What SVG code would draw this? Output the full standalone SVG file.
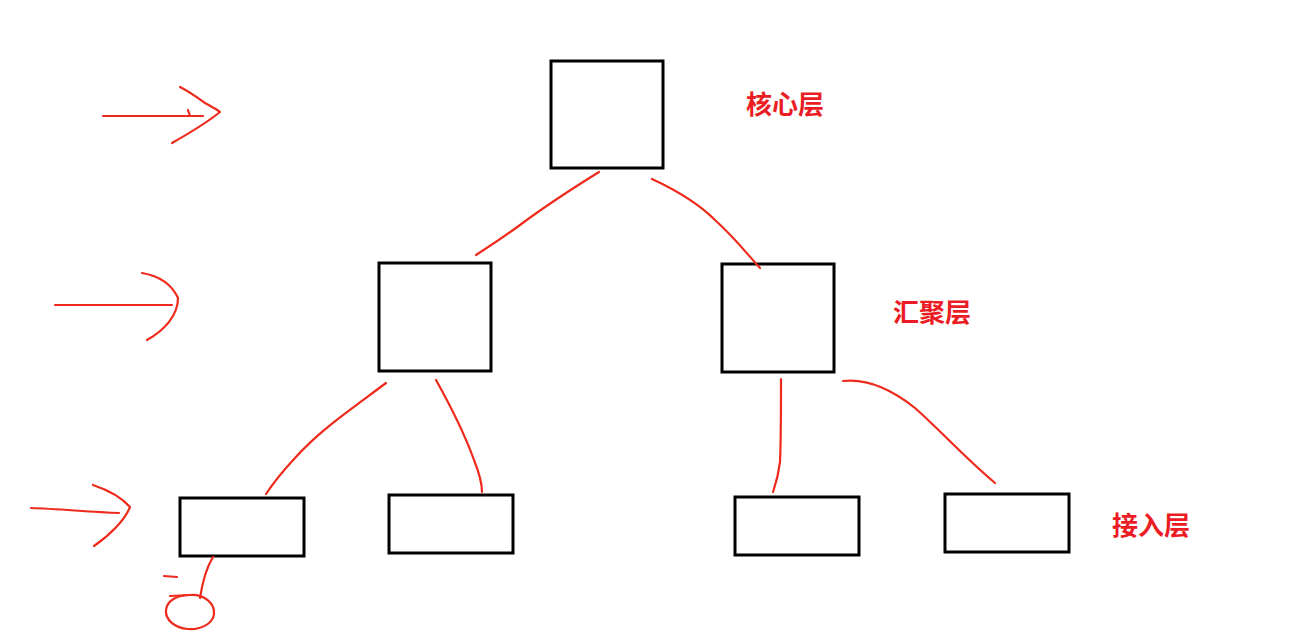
<svg xmlns="http://www.w3.org/2000/svg" width="1292" height="633" viewBox="0 0 1292 633">
<style>
.box{fill:none;stroke:#000;stroke-width:3}
.red{fill:none;stroke:#ee2a1c;stroke-width:2.2;stroke-linecap:round;stroke-linejoin:round}
.lbl{font-family:"Noto Sans CJK SC",sans-serif;font-weight:bold;font-size:26px;fill:#ec1c24}
</style>
<rect width="1292" height="633" fill="#fff"/>
<g id="core"><rect class="box" x="551" y="61" width="112" height="107"/></g>
<g id="agg-left"><rect class="box" x="379" y="263" width="112" height="108"/></g>
<g id="agg-right"><rect class="box" x="722" y="264" width="112" height="108"/></g>
<g id="acc-1"><rect class="box" x="180" y="498" width="124" height="58"/></g>
<g id="acc-2"><rect class="box" x="389" y="495" width="124" height="58"/></g>
<g id="acc-3"><rect class="box" x="735" y="497" width="124" height="58"/></g>
<g id="acc-4"><rect class="box" x="945" y="494" width="124" height="58"/></g>
<g id="labels">
<text class="lbl" x="746" y="114">核心层</text>
<text class="lbl" x="893" y="322">汇聚层</text>
<text class="lbl" x="1112" y="535">接入层</text>
</g>
<g id="connectors">
<path class="red" d="M599,172 C570,190 540,210 520,225 C505,236 490,246 476,255"/>
<path class="red" d="M652,179 C680,192 700,205 715,220 C735,238 748,255 760,268"/>
<path class="red" d="M386,383 C350,410 320,430 295,458 C280,474 272,485 266,494"/>
<path class="red" d="M436,380 C450,405 465,435 474,460 C480,475 482,485 482,492"/>
<path class="red" d="M781,379 C781,410 781,440 780,462 C778,478 775,486 773,492"/>
<path class="red" d="M843,381 C870,378 895,392 915,408 C940,430 965,458 995,483"/>
<path class="red" d="M213,557 C205,570 202,585 200,598"/>
<path class="red" d="M164,576 L177,577"/>
<path class="red" d="M170,596 L190,595"/>
<path class="red" d="M190,595 C205,594 215,604 214,614 C213,624 200,630 188,629 C175,628 165,620 166,610 C167,600 178,595 190,595 Z"/>
<path class="red" d="M103,116 L203,116"/>
<path class="red" d="M188,110 L190,116"/>
<path class="red" d="M180,87 C190,92 198,98 205,103 C212,107 218,110 220,112 C210,120 195,130 172,143"/>
<path class="red" d="M55,305 L172,305"/>
<path class="red" d="M142,273 C160,276 172,285 178,298 C178,315 165,330 147,340"/>
<path class="red" d="M31,508 C60,509 90,512 119,513"/>
<path class="red" d="M93,485 C108,490 122,498 130,507 C125,520 110,535 94,546"/>
</g>
</svg>
